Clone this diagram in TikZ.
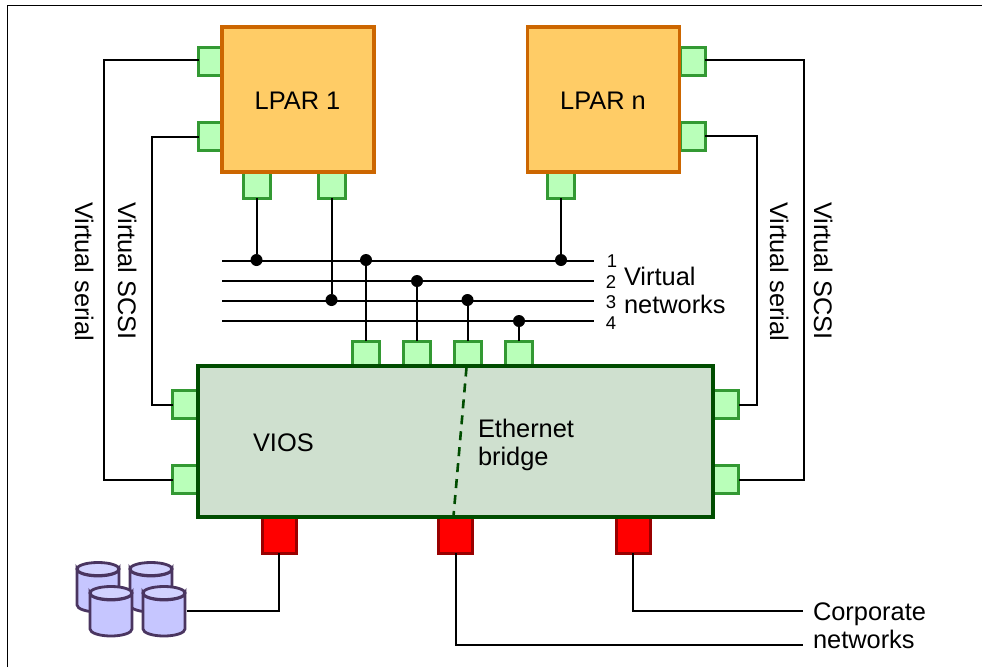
\documentclass[tikz,border=0pt]{standalone}
\usepackage{fontspec}
\setmainfont{Liberation Sans}
\definecolor{lparfill}{HTML}{FFCC66}
\definecolor{lparline}{HTML}{CC6600}
\definecolor{portfill}{HTML}{B9FFB9}
\definecolor{portline}{HTML}{339933}
\definecolor{viosfill}{HTML}{CFE0CF}
\definecolor{viosline}{HTML}{004D00}
\definecolor{redline}{HTML}{990000}
\definecolor{cylfill}{HTML}{C6C6FF}
\definecolor{cyltop}{HTML}{D2D2FF}
\definecolor{cylline}{HTML}{4A3560}
\tikzset{
  box/.style={draw,line width=3.2pt,inner sep=0,outer sep=0,anchor=north west},
  lpar/.style={box,fill=lparfill,draw=lparline,minimum width=152pt,minimum height=145pt},
  vios/.style={box,fill=viosfill,draw=viosline,minimum width=515pt,minimum height=151pt},
  hport/.style={draw=portline,fill=portfill,line width=3pt,inner sep=0,outer sep=0,minimum width=25pt,minimum height=28pt},
  vport/.style={draw=portline,fill=portfill,line width=3pt,inner sep=0,outer sep=0,minimum width=27pt,minimum height=26pt},
  rport/.style={draw=redline,fill=red,line width=3pt,inner sep=0,outer sep=0,minimum width=34pt,minimum height=36pt},
  wire/.style={draw=black,line width=2pt,line join=miter},
  net/.style={draw=black,line width=2pt},
  joint/.style={circle,fill=black,inner sep=0,outer sep=0,minimum size=12pt},
  big/.style={font=\fontsize{25.4pt}{28pt}\selectfont,inner sep=0,outer sep=0},
  small/.style={font=\fontsize{18.5pt}{20pt}\selectfont,inner sep=0,outer sep=0},
  side/.style={big,rotate=-90,anchor=base west},
  cyl/.style={draw=cylline,fill=cylfill,line width=2.8pt},
}
\newcommand{\disk}[2]{%
  \path[cyl] (#1,#2+7) -- (#1,#2+43) arc[start angle=180,end angle=360,x radius=21pt,y radius=7pt] -- (#1+42,#2+7)
     arc[start angle=0,end angle=-180,x radius=21pt,y radius=7pt] -- cycle;
  \path[cyl,fill=cyltop] (#1+21,#2+7) ellipse[x radius=21pt,y radius=6.5pt];
}
\begin{document}
\begin{tikzpicture}[x=1pt,y=-1pt]
\useasboundingbox (0,0) rectangle (982,667);
\draw[black,line width=1.6pt] (7.5,667) -- (7.5,5.5) -- (982,5.5);

% ports behind boxes
\node[hport] (la) at (211,61) {};
\node[hport] (lb) at (211,136.5) {};
\node[vport] (lc) at (256.5,185) {};
\node[vport] (ld) at (331.5,185) {};
\node[hport] (ra) at (692.5,61) {};
\node[hport] (rb) at (692.5,136) {};
\node[vport] (rc) at (561,185) {};
\node[vport] (ta) at (366,354) {};
\node[vport] (tb) at (417,354) {};
\node[vport] (tc) at (467.5,354) {};
\node[vport] (td) at (519,354) {};
\node[hport] (va) at (185,404.5) {};
\node[hport] (vb) at (185,479.5) {};
\node[hport] (vc) at (726,404.5) {};
\node[hport] (vd) at (726,479.5) {};
\node[rport] (ea) at (279,535) {};
\node[rport] (eb) at (455.5,535) {};
\node[rport] (ec) at (633,535) {};

\node[lpar] (lpa) at (222,27) {};
\node[lpar] (lpb) at (527.5,27) {};
\node[vios] (vio) at (198,366) {};

\node[big,anchor=base] (t1) at (297.5,109) {LPAR 1};
\node[big,anchor=base] (t2) at (603,109) {LPAR n};
\node[big,anchor=base west] (t3) at (253,451) {VIOS};
\node[big,anchor=base west] (t4) at (478,437) {Ethernet};
\node[big,anchor=base west] (t5) at (478,465) {bridge};

% networks
\coordinate (n1s) at (222,261); \coordinate (n1e) at (594,261);
\coordinate (n2s) at (222,281); \coordinate (n2e) at (594,281);
\coordinate (n3s) at (222,301); \coordinate (n3e) at (594,301);
\coordinate (n4s) at (222,321); \coordinate (n4e) at (594,321);
\foreach \k in {1,2,3,4} {\draw[net] (n\k s) -- (n\k e);}

\node[joint] (j1) at (256.5,260) {};
\node[joint] (j2) at (366,260) {};
\node[joint] (j3) at (561,260) {};
\node[joint] (j4) at (417,281) {};
\node[joint] (j5) at (331.5,300) {};
\node[joint] (j6) at (467.5,300) {};
\node[joint] (j7) at (519,321) {};

\draw[wire] (lc.south) -- (j1);
\draw[wire] (ld.south) -- (j5);
\draw[wire] (rc.south) -- (j3);
\draw[wire] (ta.north) -- (j2);
\draw[wire] (tb.north) -- (j4);
\draw[wire] (tc.north) -- (j6);
\draw[wire] (td.north) -- (j7);

% side wires
\draw[wire] ([yshift=1.2pt]la.west) -- ++(-94.5,0) |- (vb.west);
\draw[wire] (lb.west) -- ++(-46.5,0) |- (va.west);
\draw[wire] ([yshift=1.2pt]ra.east) -- ++(99,0) |- (vd.east);
\draw[wire] (rb.east) -- ++(52,0) |- (vc.east);

% dashed bridge line
\draw[viosline,line width=2.6pt,dash pattern=on 9pt off 7pt] (vio.north west -| tc.south) ++(-1,1.5) -- (453.5,516);

% disks
\disk{77}{562}
\disk{130}{562}
\disk{90}{586}
\disk{143}{586}
\coordinate (dk) at (187,611);
\coordinate (cn) at (803,611);
\coordinate (co) at (803,645);
\draw[wire] (ea.south) |- (dk);
\draw[wire] (ec.south) |- (cn);
\draw[wire] (eb.south) |- (co);

% labels
\node[side] (s1) at (75,202) {Virtual serial};
\node[side] (s2) at (118,202) {Virtual SCSI};
\node[side] (s3) at (770,202) {Virtual serial};
\node[side] (s4) at (814,202) {Virtual SCSI};
\node[small,anchor=base] (m1) at (612,267) {1};
\node[small,anchor=base] (m2) at (611,288) {2};
\node[small,anchor=base] (m3) at (611,308) {3};
\node[small,anchor=base] (m4) at (611,329) {4};
\node[big,anchor=base west] (v1) at (624,285) {Virtual};
\node[big,anchor=base west] (v2) at (624,313) {networks};
\node[big,anchor=base west] (c1) at (813,620) {Corporate};
\node[big,anchor=base west] (c2) at (813,648) {networks};
\end{tikzpicture}
\end{document}
